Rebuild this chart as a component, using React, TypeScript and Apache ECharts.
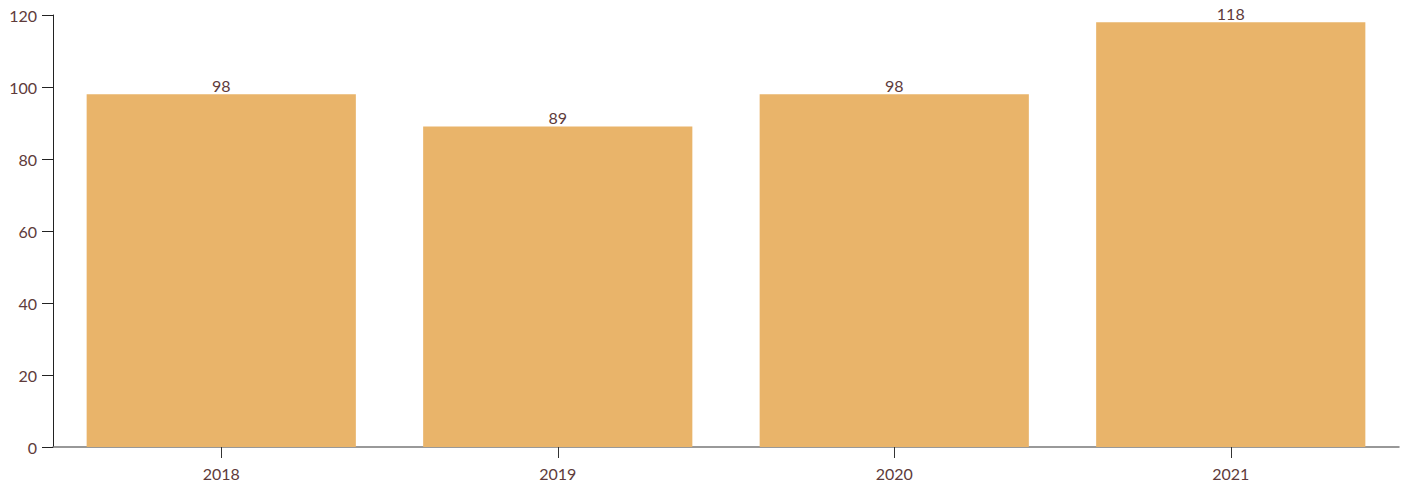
import React, { useEffect, useRef } from "react";
import * as echarts from "echarts";

const categories = ["2018", "2019", "2020", "2021"];
const values = [98, 89, 98, 118];
const yTicks = { min: 0, max: 120, interval: 20 };

const textColor = "#5e3b3b";
const fontFamily = "Lato, 'Open Sans', sans-serif";

export default function App() {
  const ref = useRef<HTMLDivElement>(null);
  useEffect(() => {
    if (!ref.current) return;
    const chart = echarts.init(ref.current, undefined, { renderer: "svg" });
    chart.setOption({
      animation: false,
      grid: { left: 53, right: 5, top: 15, bottom: 39, containLabel: false },
      xAxis: {
        type: "category",
        data: categories,
        axisLine: { show: true, lineStyle: { color: "#777777", width: 1.5 } },
        axisTick: { show: true, alignWithLabel: true, length: 11, lineStyle: { color: "#333333" } },
        axisLabel: { color: textColor, fontSize: 16, fontFamily, margin: 18 },
        splitLine: { show: false },
      },
      yAxis: {
        type: "value",
        min: yTicks.min,
        max: yTicks.max,
        interval: yTicks.interval,
        axisLine: { show: true, lineStyle: { color: "#222222", width: 1 } },
        axisTick: { show: true, length: 11, lineStyle: { color: "#222222" } },
        axisLabel: { color: textColor, fontSize: 16, fontFamily, margin: 16 },
        splitLine: { show: false },
      },
      series: [
        {
          type: "bar",
          data: values,
          barCategoryGap: "20%",
          itemStyle: { color: "#e9b46a" },
          label: {
            show: true,
            position: "top",
            distance: 1,
            color: textColor,
            fontSize: 16,
            fontFamily,
          },
        },
      ],
    });
    return () => chart.dispose();
  }, []);
  return <div ref={ref} style={{ width: 1404, height: 486, position: "absolute", left: 0, top: 0 }} />;
}
